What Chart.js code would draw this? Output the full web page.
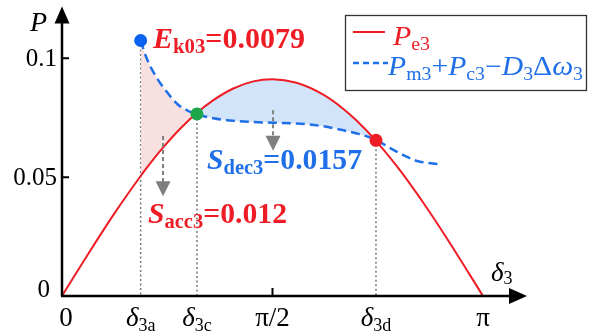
<!DOCTYPE html>
<html>
<head>
<meta charset="utf-8">
<script src="https://cdn.jsdelivr.net/npm/chart.js@4.4.1/dist/chart.umd.min.js"></script>
<style>
  html, body { margin: 0; padding: 0; background: #fff; }
  #wrap { width: 589px; height: 331px; position: relative; }
</style>
</head>
<body>
<div id="wrap"><canvas id="c"></canvas></div>
<script>
// 功角曲线数据
const redDelta = [0, 0.2, 0.4, 0.587, 0.632, 0.707, 0.780, 0.860, 0.931, 1.007, 1.130, 1.278, 1.428, 1.571,
  1.750, 1.950, 2.100, 2.200, 2.343, 2.50, 2.70, 2.90, Math.PI];
const redP = [0, 0.0181, 0.0355, 0.0505, 0.0539, 0.0593, 0.0641, 0.0691, 0.0731, 0.0771, 0.0824, 0.0873, 0.0903, 0.0912,
  0.0897, 0.0847, 0.0787, 0.0737, 0.0653, 0.0545, 0.0389, 0.0218, 0];

const blueDelta = [0.587, 0.632, 0.707, 0.780, 0.860, 0.931, 1.007, 1.130, 1.278, 1.428, 1.571,
  1.750, 1.950, 2.100, 2.200, 2.343, 2.450, 2.550, 2.650, 2.806];
const blueP = [0.1075, 0.1000, 0.0918, 0.0860, 0.0808, 0.0782, 0.0764, 0.0748, 0.0737, 0.0732, 0.0729,
  0.0726, 0.0714, 0.0697, 0.0684, 0.0657, 0.0622, 0.0592, 0.0568, 0.0555];

// 关键点：δ3a / δ3c / δ3d
const markerDelta = [0.587, 1.007, 2.343];
const markerP = [0.1075, 0.0766, 0.0655];
const markerColors = ['#0a64f0', '#1ea64b', '#ee1c25'];

// 坐标轴刻度
const xTickValues = [0, 0.587, 1.007, Math.PI / 2, 2.343, Math.PI];
const xTickLabels = [['0', ''], ['δ', '3a'], ['δ', '3c'], ['π/2', ''], ['δ', '3d'], ['π', '']];
const yTickValues = [0, 0.05, 0.1];
const yTickLabels = ['0', '0.05', '0.1'];

// 灰色虚线箭头（δ, 起点 P, 终点 P）
const arrowDelta = [0.754, 1.575];
const arrowTopP = [0.0673, 0.0782];
const arrowTipP = [0.0420, 0.0611];

const RED = '#ee1c25';
const BLUE = '#1f6fe8';
const SERIF = '"Liberation Serif", "Times New Roman", serif';

const toPts = (xs, ys) => xs.map((x, i) => ({ x, y: ys[i] }));
const inRange = p => p.x >= markerDelta[0] - 1e-9 && p.x <= markerDelta[2] + 1e-9;

// 上下标文字：parts = [{t, f, c, dy}]，fitW 给定时横向拉伸到该宽度
function richWidth(ctx, parts) {
  let w = 0;
  parts.forEach(p => { ctx.font = p.f; w += ctx.measureText(p.t).width; });
  return w;
}
function drawRich(ctx, parts, x, y, align, fitW) {
  const w = richWidth(ctx, parts);
  const sx = fitW ? fitW / w : 1;
  const total = w * sx;
  const left = align === 'center' ? x - total / 2 : align === 'right' ? x - total : x;
  ctx.save();
  ctx.translate(left, y);
  ctx.scale(sx, 1);
  ctx.textAlign = 'left';
  ctx.textBaseline = 'alphabetic';
  let cx = 0;
  parts.forEach(p => {
    ctx.font = p.f;
    if (p.c) ctx.fillStyle = p.c;
    ctx.fillText(p.t, cx, p.dy || 0);
    cx += ctx.measureText(p.t).width;
  });
  ctx.restore();
}

const AxesPlugin = {
  id: 'powerAngleAxes',
  beforeDatasetsDraw(chart) {
    const { ctx, scales: { x, y } } = chart;
    ctx.save();
    ctx.strokeStyle = '#777';
    ctx.lineWidth = 1.5;
    ctx.setLineDash([2, 2.5]);
    markerDelta.forEach((d, i) => {
      ctx.beginPath();
      ctx.moveTo(x.getPixelForValue(d), y.getPixelForValue(markerP[i]));
      ctx.lineTo(x.getPixelForValue(d), y.getPixelForValue(0));
      ctx.stroke();
    });
    ctx.restore();
  },
  afterDatasetsDraw(chart) {
    const { ctx, chartArea, scales: { x, y } } = chart;
    const x0 = x.getPixelForValue(0);
    const y0 = y.getPixelForValue(0);
    ctx.save();

    // 灰色虚线箭头
    arrowDelta.forEach((d, i) => {
      const px = x.getPixelForValue(d);
      const top = y.getPixelForValue(arrowTopP[i]);
      const tip = y.getPixelForValue(arrowTipP[i]);
      ctx.strokeStyle = '#7f7f7f';
      ctx.fillStyle = '#7f7f7f';
      ctx.lineWidth = 2;
      ctx.setLineDash([4, 3]);
      ctx.beginPath();
      ctx.moveTo(px, top);
      ctx.lineTo(px, tip - 14);
      ctx.stroke();
      ctx.setLineDash([]);
      ctx.beginPath();
      ctx.moveTo(px - 7.5, tip - 15);
      ctx.lineTo(px + 7.5, tip - 15);
      ctx.lineTo(px, tip);
      ctx.closePath();
      ctx.fill();
    });

    // 坐标轴 + 箭头
    ctx.setLineDash([]);
    ctx.strokeStyle = '#000';
    ctx.fillStyle = '#000';
    ctx.lineWidth = 2.5;
    ctx.beginPath();
    ctx.moveTo(x0, y0);
    ctx.lineTo(x0, chartArea.top + 14);
    ctx.moveTo(x0 - 1, y0);
    ctx.lineTo(chartArea.right - 15, y0);
    ctx.stroke();
    ctx.beginPath();
    ctx.moveTo(x0, chartArea.top);
    ctx.lineTo(x0 - 7.5, chartArea.top + 17);
    ctx.lineTo(x0 + 7.5, chartArea.top + 17);
    ctx.closePath();
    ctx.fill();
    ctx.beginPath();
    ctx.moveTo(chartArea.right, y0);
    ctx.lineTo(chartArea.right - 18, y0 - 8);
    ctx.lineTo(chartArea.right - 18, y0 + 8);
    ctx.closePath();
    ctx.fill();

    // 刻度线（朝内）
    ctx.lineWidth = 2;
    ctx.beginPath();
    yTickValues.forEach(v => {
      if (v === 0) return;
      const py = y.getPixelForValue(v);
      ctx.moveTo(x0, py);
      ctx.lineTo(x0 + 7, py);
    });
    const pxHalf = x.getPixelForValue(Math.PI / 2);
    ctx.moveTo(pxHalf, y0);
    ctx.lineTo(pxHalf, y0 - 8);
    ctx.stroke();

    // y 轴刻度标签
    ctx.fillStyle = '#000';
    ctx.textAlign = 'right';
    ctx.textBaseline = 'middle';
    ctx.font = '25px ' + SERIF;
    yTickValues.forEach((v, i) => {
      const py = y.getPixelForValue(v);
      if (v === 0) ctx.fillText(yTickLabels[i], x0 - 12, py - 6);
      else ctx.fillText(yTickLabels[i], x0 - 5, py + 1);
    });

    // x 轴刻度标签
    xTickValues.forEach((v, i) => {
      const [main, sub] = xTickLabels[i];
      const italic = main === 'δ';
      const parts = [{ t: main, f: (italic ? 'italic ' : '') + '27px ' + SERIF, c: '#000' }];
      if (sub) parts.push({ t: sub, f: '18px ' + SERIF, dy: 5 });
      drawRich(ctx, parts, x.getPixelForValue(v) + (v === 0 ? 4 : 0), y0 + 30, 'center');
    });

    // 轴标题
    drawRich(ctx, [{ t: 'P', f: 'italic 28px ' + SERIF, c: '#000' }], 30, 31, 'left');
    drawRich(ctx, [
      { t: 'δ', f: 'italic 27px ' + SERIF, c: '#000' },
      { t: '3', f: '18px ' + SERIF, dy: 3 }
    ], 491, 281, 'left');

    // 标注文字
    const B = 'bold 29px ' + SERIF, BI = 'italic bold 29px ' + SERIF, BS = 'bold 20px ' + SERIF;
    drawRich(ctx, [
      { t: 'E', f: BI, c: RED }, { t: 'k03', f: BS, dy: 5 }, { t: '=0.0079', f: B }
    ], 153, 48, 'left', 152);
    drawRich(ctx, [
      { t: 'S', f: BI, c: BLUE }, { t: 'dec3', f: BS, dy: 5 }, { t: '=0.0157', f: B }
    ], 207, 169, 'left', 155);
    drawRich(ctx, [
      { t: 'S', f: BI, c: RED }, { t: 'acc3', f: BS, dy: 5 }, { t: '=0.012', f: B }
    ], 148, 223, 'left', 139);

    // 图例
    ctx.strokeStyle = '#333';
    ctx.lineWidth = 1.3;
    ctx.strokeRect(345.5, 15.5, 241, 75);
    ctx.lineWidth = 2;
    ctx.strokeStyle = RED;
    ctx.beginPath();
    ctx.moveTo(353, 32);
    ctx.lineTo(385, 32);
    ctx.stroke();
    ctx.strokeStyle = BLUE;
    ctx.lineWidth = 2.5;
    ctx.setLineDash([6, 4]);
    ctx.beginPath();
    ctx.moveTo(353, 63);
    ctx.lineTo(388, 63);
    ctx.stroke();
    ctx.setLineDash([]);
    const LI = 'italic 27px ' + SERIF, LR = '27px ' + SERIF, LS = '18px ' + SERIF;
    drawRich(ctx, [{ t: 'P', f: LI, c: RED }, { t: 'e3', f: LS, dy: 5 }], 393, 45, 'left', 37);
    drawRich(ctx, [
      { t: 'P', f: LI, c: BLUE }, { t: 'm3', f: LS, dy: 5 }, { t: '+', f: LR },
      { t: 'P', f: LI }, { t: 'c3', f: LS, dy: 5 }, { t: '−', f: LR },
      { t: 'D', f: LI }, { t: '3', f: LS, dy: 5 }, { t: 'Δ', f: LR },
      { t: 'ω', f: LI }, { t: '3', f: LS, dy: 5 }
    ], 388, 75, 'left', 195);

    ctx.restore();
  }
};

const fillRedPts = toPts(redDelta, redP).filter(inRange);
const fillBluePts = toPts(blueDelta, blueP).filter(inRange);

new Chart(document.getElementById('c'), {
  type: 'scatter',
  data: {
    datasets: [
      {
        // 加速/减速面积：红线在蓝线之上为减速面积（蓝），之下为加速面积（粉）
        data: fillRedPts,
        showLine: true,
        borderWidth: 0,
        borderColor: 'transparent',
        pointRadius: 0,
        cubicInterpolationMode: 'monotone',
        fill: { target: 1, above: 'rgba(208,227,249,0.95)', below: 'rgba(247,222,221,0.95)' },
        order: 3
      },
      {
        data: fillBluePts,
        showLine: true,
        borderWidth: 0,
        borderColor: 'transparent',
        pointRadius: 0,
        cubicInterpolationMode: 'monotone',
        fill: false,
        order: 3
      },
      {
        data: toPts(redDelta, redP),
        showLine: true,
        borderColor: RED,
        borderWidth: 2,
        pointRadius: 0,
        cubicInterpolationMode: 'monotone',
        order: 2
      },
      {
        data: toPts(blueDelta, blueP),
        showLine: true,
        borderColor: BLUE,
        borderWidth: 2.5,
        borderDash: [9, 5],
        pointRadius: 0,
        cubicInterpolationMode: 'monotone',
        order: 2
      },
      {
        data: toPts(markerDelta, markerP),
        pointRadius: 6.5,
        pointBackgroundColor: markerColors,
        pointBorderWidth: 0,
        order: 1
      }
    ]
  },
  options: {
    responsive: true,
    maintainAspectRatio: false,
    animation: false,
    events: [],
    layout: { padding: { left: 62, right: 62, top: 5, bottom: 35 } },
    plugins: {
      legend: { display: false },
      tooltip: { enabled: false }
    },
    scales: {
      x: { type: 'linear', min: 0, max: 3.470, display: false },
      y: { type: 'linear', min: 0, max: 0.1218, display: false }
    }
  },
  plugins: [AxesPlugin]
});
</script>
</body>
</html>
